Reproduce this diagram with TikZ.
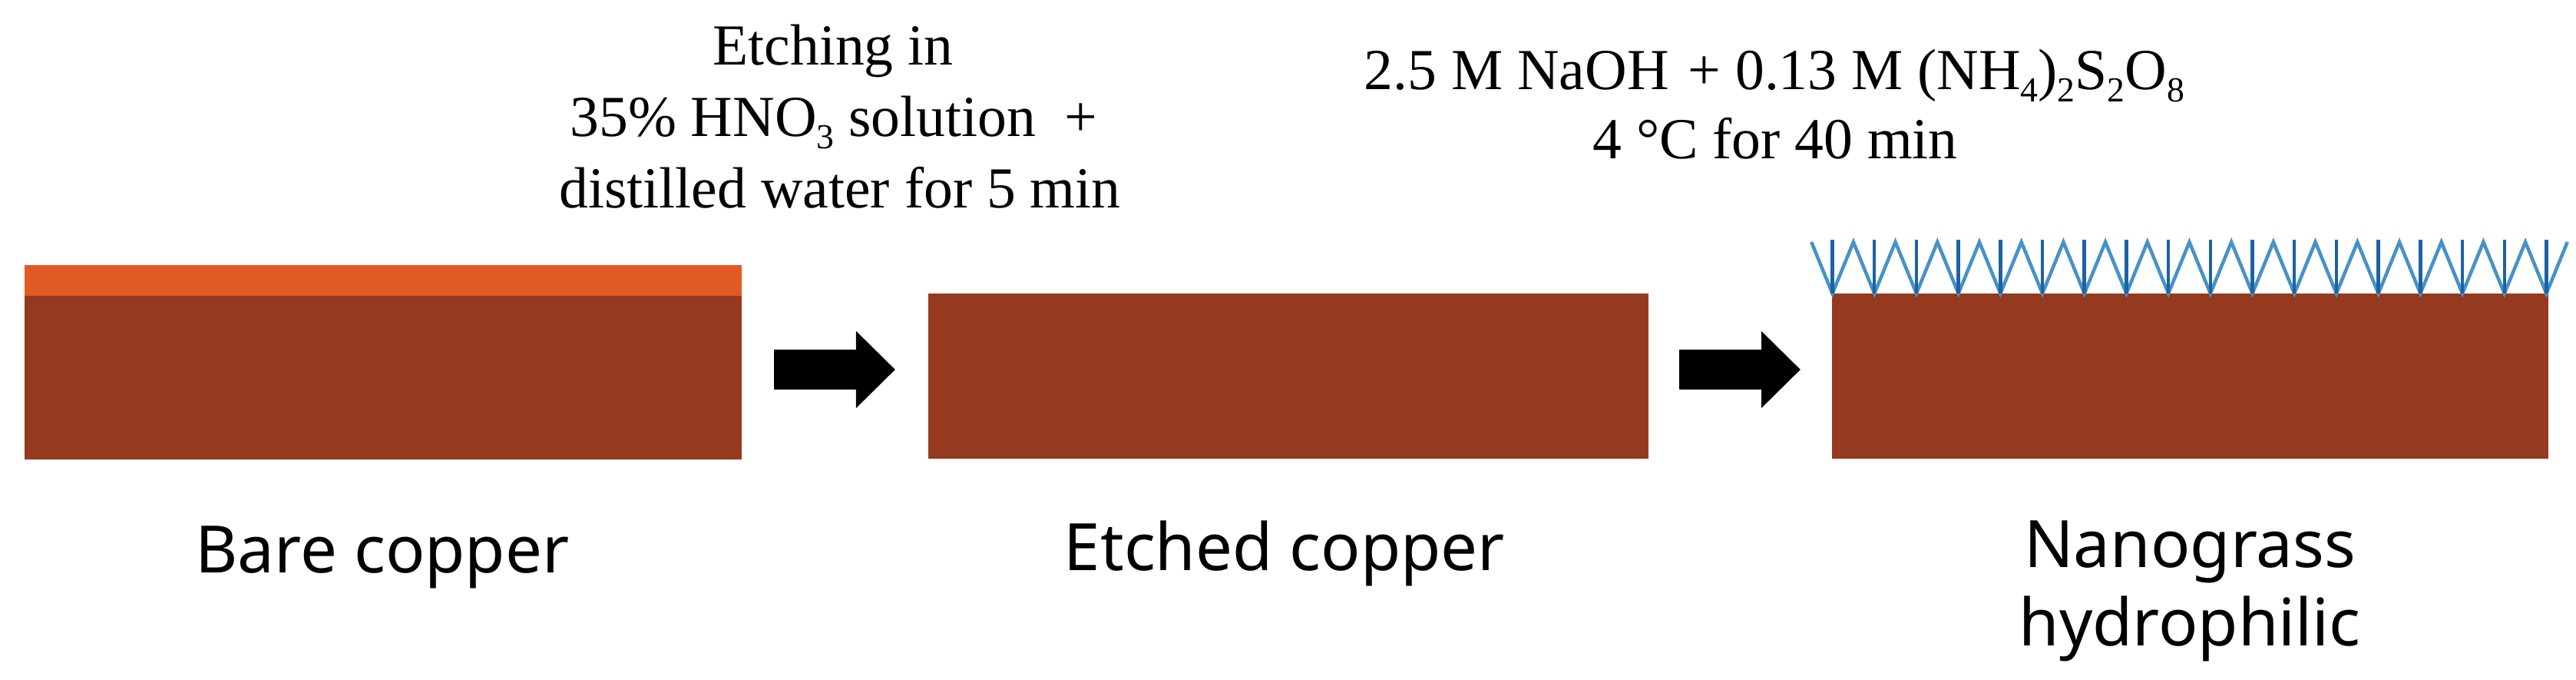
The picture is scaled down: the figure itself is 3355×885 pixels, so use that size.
\documentclass[tikz,border=0pt]{standalone}
\usepackage{fontspec}
\setmainfont{Liberation Serif}
\newfontfamily\labelfont{Noto Sans}
\usetikzlibrary{arrows.meta}
\definecolor{cubrown}{RGB}{149,57,31}
\definecolor{cuoxide}{RGB}{225,90,37}
\definecolor{grassdiag}{RGB}{70,146,198}
\definecolor{grassvert}{RGB}{28,98,165}
\newcommand{\dnsub}[1]{\raisebox{-4.3pt}{\fontsize{13pt}{13pt}\selectfont #1}}
\tikzset{
  cond/.style={inner sep=0pt, anchor=base, font=\fontsize{21.5pt}{26pt}\selectfont},
  stage/.style={inner sep=0pt, anchor=base, font=\labelfont\fontsize{24.2pt}{30pt}\selectfont},
  bigarrow/.style={black, line width=0.52cm, -{Triangle[length=0.51cm,width=0.97cm]}},
  diagline/.style={grassdiag, line width=0.045cm, line join=miter},
  vertline/.style={grassvert, line width=0.045cm},
}
\begin{document}
\begin{tikzpicture}[x=0.01cm,y=-0.01cm]
\useasboundingbox[fill=white] (0,0) rectangle (3355,885);

% copper plates
\fill[cuoxide] (32,345) rectangle (966,385);
\fill[cubrown] (32,385) rectangle (966,598);
\fill[cubrown] (1209,382) rectangle (2147,597);
\fill[cubrown] (2386,382) rectangle (3319,597);

% nanograss
\draw[diagline] (2359.15,315)
  \foreach \i in {0,...,17}{ -- ({2386.5+54.7*\i},382) -- ({2413.85+54.7*\i},315) };
\foreach \i in {0,...,17}{
  \draw[vertline] ({2386.5+54.7*\i},382) -- ({2386.5+54.7*\i},312);
}

% arrows
\coordinate (a1s) at (1008,481);
\coordinate (a1e) at (1166,481);
\coordinate (a2s) at (2187,481);
\coordinate (a2e) at (2345,481);
\draw[bigarrow] (a1s) -- (a1e);
\draw[bigarrow] (a2s) -- (a2e);

% process conditions
\node[cond] (c1a) at (1085,85) {Etching in};
\node[cond] (c1b) at (1086,178) {35\% HNO\dnsub{3} solution\ \ +};
\node[cond] (c1c) at (1094,270) {distilled water for 5 min};
\node[cond] (c2a) at (2311,117) {2.5 M NaOH\hspace{0.08em} + 0.13 M (NH\dnsub{4})\dnsub{2}S\dnsub{2}O\dnsub{8}};
\node[cond] (c2b) at (2312,207) {4 °C for 40 min};

% stage labels
\node[stage] (s1) at (498,745) {Bare copper};
\node[stage] (s2) at (1673,742) {Etched copper};
\node[stage] (s3a) at (2852,738) {Nanograss};
\node[stage] (s3b) at (2852,840) {hydrophilic};
\end{tikzpicture}
\end{document}
